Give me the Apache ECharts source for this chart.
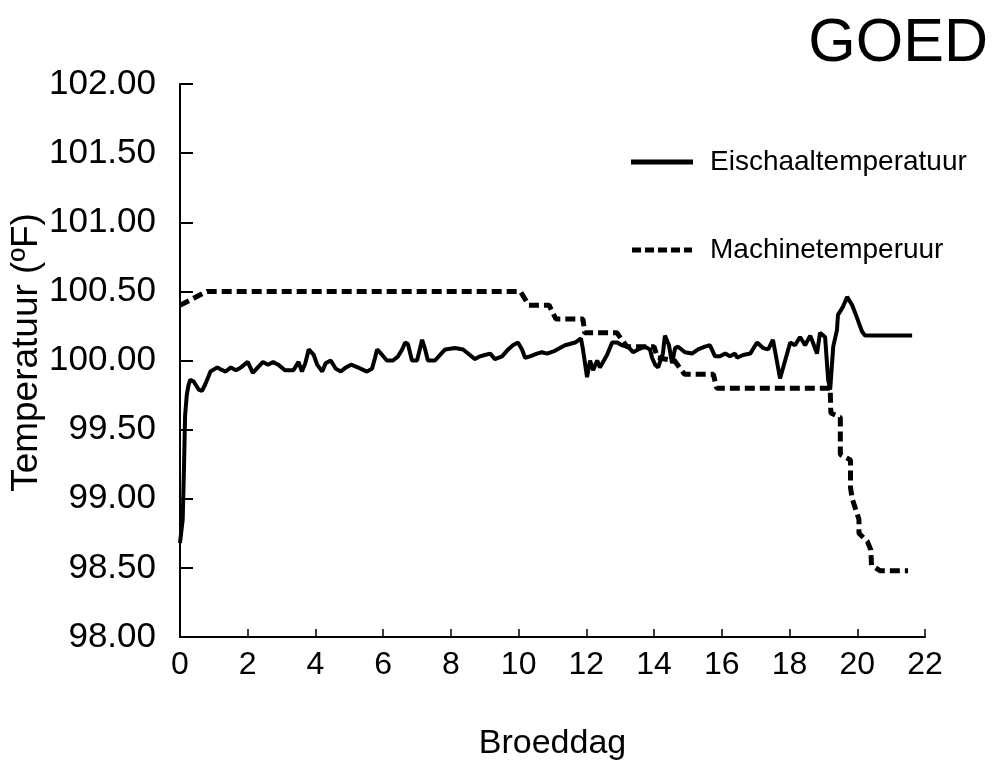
<!DOCTYPE html>
<html>
<head>
<meta charset="utf-8">
<script src="https://cdn.jsdelivr.net/npm/echarts@6/dist/echarts.min.js"></script>
<style>
  html, body { margin: 0; padding: 0; background: #fff; }
  #main { width: 994px; height: 760px; }
</style>
</head>
<body>
<div id="main"></div>
<script>
// Eischaaltemperatuur (solid line)
var eggDays = [0.0, 0.08, 0.12, 0.15, 0.2, 0.25, 0.3, 0.4, 0.55, 0.65, 0.75, 0.9, 1.1, 1.25, 1.35, 1.5, 1.65, 1.8, 2.0, 2.15,
    2.3, 2.45, 2.6, 2.75, 2.9, 3.1, 3.35, 3.5, 3.6, 3.7, 3.8, 3.95, 4.05, 4.2, 4.3, 4.45, 4.6, 4.75, 4.9, 5.05,
    5.25, 5.52, 5.67, 5.76, 5.82, 5.97, 6.11, 6.29, 6.44, 6.56, 6.65, 6.73, 6.85, 7.0, 7.15, 7.24, 7.32, 7.53, 7.68, 7.83,
    8.12, 8.36, 8.56, 8.71, 8.86, 9.0, 9.16, 9.3, 9.51, 9.69, 9.83, 9.98, 10.1, 10.19, 10.34, 10.54, 10.69, 10.84, 11.07, 11.37,
    11.67, 11.84, 11.9, 12.02, 12.11, 12.2, 12.32, 12.4, 12.61, 12.76, 12.91, 13.05, 13.23, 13.38, 13.53, 13.73, 13.88, 13.94, 14.03, 14.12,
    14.26, 14.32, 14.44, 14.53, 14.62, 14.71, 14.91, 15.12, 15.3, 15.5, 15.65, 15.8, 15.95, 16.1, 16.24, 16.39, 16.45, 16.63, 16.84, 17.04,
    17.22, 17.37, 17.51, 17.72, 17.87, 18.02, 18.16, 18.31, 18.46, 18.61, 18.69, 18.81, 18.9, 19.05, 19.14, 19.2, 19.29, 19.4, 19.43, 19.58,
    19.7, 19.85, 19.99, 20.14, 20.23, 21.62];
var eggTemps = [98.68, 98.85, 99.25, 99.6, 99.75, 99.82, 99.86, 99.85, 99.79, 99.78, 99.83, 99.92, 99.95, 99.93, 99.92, 99.95, 99.93, 99.95, 99.99, 99.91,
    99.95, 99.99, 99.97, 99.99, 99.97, 99.93, 99.93, 99.99, 99.92, 99.98, 100.08, 100.04, 99.97, 99.92, 99.98, 100.0, 99.94, 99.92, 99.95, 99.97,
    99.95, 99.92, 99.94, 100.02, 100.08, 100.04, 100.0, 100.0, 100.03, 100.08, 100.13, 100.12, 100.0, 100.0, 100.15, 100.08, 100.0, 100.0, 100.04, 100.08,
    100.09, 100.08, 100.04, 100.01, 100.03, 100.04, 100.05, 100.01, 100.03, 100.08, 100.11, 100.13, 100.08, 100.02, 100.03, 100.05, 100.06, 100.05, 100.07, 100.11,
    100.13, 100.16, 100.08, 99.88, 100.0, 99.93, 100.0, 99.95, 100.04, 100.13, 100.13, 100.11, 100.1, 100.06, 100.08, 100.1, 100.08, 100.02, 99.97, 99.95,
    100.05, 100.18, 100.11, 99.98, 100.09, 100.1, 100.06, 100.05, 100.08, 100.1, 100.11, 100.03, 100.03, 100.05, 100.03, 100.05, 100.02, 100.04, 100.05, 100.13,
    100.09, 100.08, 100.15, 99.87, 100.0, 100.13, 100.11, 100.17, 100.11, 100.18, 100.13, 100.05, 100.2, 100.17, 99.86, 99.79, 100.1, 100.22, 100.33, 100.39,
    100.46, 100.4, 100.31, 100.21, 100.18, 100.18];

// Machinetemperuur (dashed line)
var machineDays = [0.0, 0.4, 0.8, 10.05, 10.3, 10.9, 11.1, 11.9, 11.95, 12.9, 13.2, 14.0, 14.1, 14.6, 14.9, 15.75, 15.85, 19.2,
    19.22, 19.5, 19.5, 19.8, 19.8, 19.85, 20.05, 20.05, 20.3, 20.4, 20.42, 20.67, 21.5];
var machineTemps = [100.4, 100.45, 100.5, 100.5, 100.4, 100.4, 100.3, 100.3, 100.2, 100.2, 100.1, 100.1, 100.02, 100.0, 99.9, 99.9, 99.8, 99.8,
    99.62, 99.59, 99.32, 99.28, 99.08, 99.0, 98.85, 98.75, 98.69, 98.63, 98.52, 98.48, 98.48];

var xTicks = [0, 2, 4, 6, 8, 10, 12, 14, 16, 18, 20, 22];
var yTicks = [98.0, 98.5, 99.0, 99.5, 100.0, 100.5, 101.0, 101.5, 102.0];

var eggData = [];
for (var i = 0; i < eggDays.length; i++) eggData.push([eggDays[i], eggTemps[i]]);
var machineData = [];
for (var j = 0; j < machineDays.length; j++) machineData.push([machineDays[j], machineTemps[j]]);

// legend samples: a solid bar and a row of dashes
var solidIcon = 'path://M0,0 L62,0 L62,5 L0,5 Z';
var dashIcon = 'path://M0,0 L9,0 L9,5 L0,5 Z M13,0 L22,0 L22,5 L13,5 Z M26,0 L35,0 L35,5 L26,5 Z M39,0 L48,0 L48,5 L39,5 Z M52,0 L60,0 L60,5 L52,5 Z';

var font = 'Liberation Sans, Arial, Helvetica, sans-serif';
var myChart = echarts.init(document.getElementById('main'));
myChart.setOption({
    animation: false,
    backgroundColor: '#ffffff',
    textStyle: { fontFamily: font, color: '#000' },
    title: {
        text: 'GOED',
        right: 1,
        top: 9,
        textStyle: { fontFamily: font, fontSize: 61, fontWeight: 'normal', color: '#000' }
    },
    legend: {
        orient: 'vertical',
        left: 626,
        top: 143,
        itemWidth: 62,
        itemHeight: 5,
        itemGap: 60,
        textStyle: { fontFamily: font, fontSize: 28, lineHeight: 28, color: '#000', padding: [0, 0, 0, 12] },
        data: [
            { name: 'Eischaaltemperatuur', icon: solidIcon, itemStyle: { color: '#000' } },
            { name: 'Machinetemperuur', icon: dashIcon, itemStyle: { color: '#000' } }
        ]
    },
    grid: { left: 180, right: 69, top: 84, bottom: 123, containLabel: false, outerBoundsMode: 'none' },
    xAxis: {
        type: 'value',
        min: xTicks[0],
        max: xTicks[xTicks.length - 1],
        interval: 2,
        name: 'Broeddag',
        nameLocation: 'middle',
        nameGap: 90,
        nameTextStyle: { fontFamily: font, fontSize: 34, color: '#000' },
        axisLine: { lineStyle: { color: '#000', width: 2 } },
        axisTick: { inside: true, length: 8, lineStyle: { color: '#000', width: 1.5 } },
        axisLabel: { fontFamily: font, fontSize: 32, color: '#000', margin: 12 },
        splitLine: { show: false }
    },
    yAxis: {
        type: 'value',
        min: yTicks[0],
        max: yTicks[yTicks.length - 1],
        interval: 0.5,
        name: 'Temperatuur (ºF)',
        nameLocation: 'middle',
        nameGap: 135,
        nameRotate: 90,
        nameMoveOverlap: false,
        nameTextStyle: { fontFamily: font, fontSize: 37, color: '#000', padding: [0, 0, 0, 16] },
        axisLine: { show: true, lineStyle: { color: '#000', width: 2 } },
        axisTick: { show: true, inside: true, length: 13, lineStyle: { color: '#000', width: 2 } },
        axisLabel: {
            fontFamily: font, fontSize: 35, color: '#000', margin: 24,
            formatter: function (v) { return v.toFixed(2); }
        },
        splitLine: { show: false }
    },
    series: [
        {
            name: 'Eischaaltemperatuur',
            type: 'line',
            data: eggData,
            symbol: 'none',
            lineStyle: { color: '#000', width: 4 },
            itemStyle: { color: '#000' }
        },
        {
            name: 'Machinetemperuur',
            type: 'line',
            data: machineData,
            symbol: 'none',
            lineStyle: { color: '#000', width: 5, type: [10, 5] },
            itemStyle: { color: '#000' }
        }
    ]
});
</script>
</body>
</html>
